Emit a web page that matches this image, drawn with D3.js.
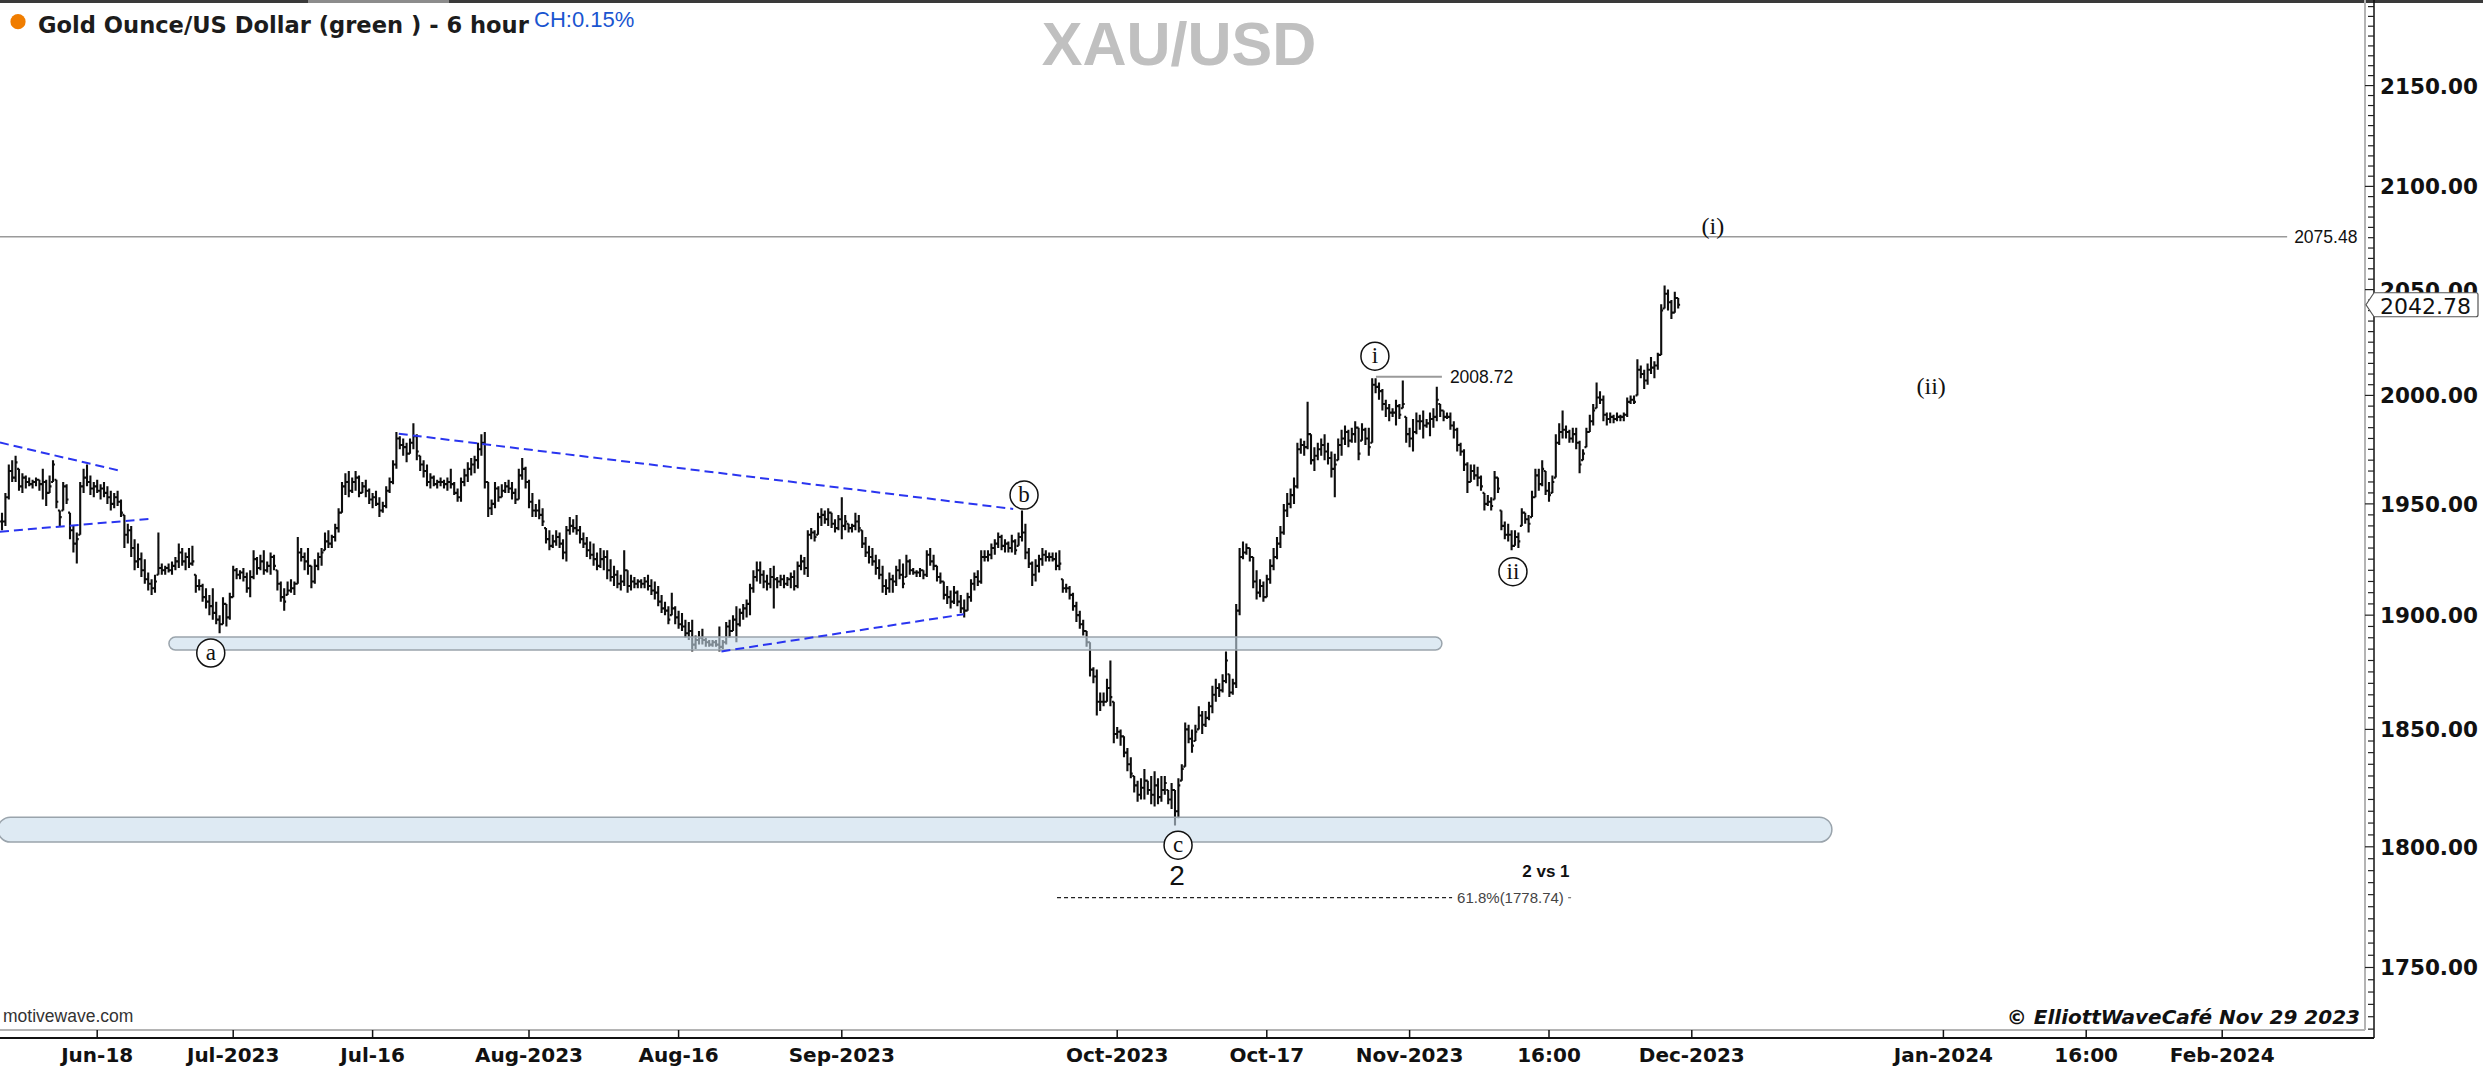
<!DOCTYPE html>
<html><head><meta charset="utf-8">
<script src="https://cdn.jsdelivr.net/npm/d3@7"></script>
<style>
html,body{margin:0;padding:0;background:#fff;overflow:hidden}
svg{display:block}
</style></head><body>
<svg id="chart" width="2483" height="1068"></svg>
<script>
// ---- DATA (6-hour bars, XAU/USD) ----
const highs = [
1946,1955,1968,1970,1972,1966,1964,1963,1962,1961,
1962,1961,1966,1961,1963,1970,1961,1947,1960,1959,
1946,1940,1937,1960,1966,1968,1963,1960,1961,1959,
1960,1958,1956,1955,1956,1952,1945,1941,1940,1934,
1932,1928,1925,1919,1916,1918,1937,1923,1922,1923,
1924,1926,1932,1930,1928,1930,1931,1918,1916,1914,
1912,1909,1912,1906,1900,1908,1905,1910,1922,1921,
1920,1921,1919,1920,1929,1926,1927,1929,1924,1928,
1927,1920,1915,1912,1915,1916,1915,1935,1930,1928,
1930,1922,1925,1928,1930,1937,1938,1936,1941,1948,
1960,1964,1965,1962,1965,1963,1960,1961,1957,1955,
1956,1953,1951,1958,1962,1970,1983,1981,1980,1978,
1980,1987,1982,1972,1970,1968,1964,1963,1961,1962,
1961,1962,1966,1960,1957,1962,1966,1969,1971,1972,
1978,1982,1983,1960,1952,1960,1958,1959,1960,1961,
1960,1957,1966,1971,1967,1961,1955,1950,1952,1948,
1939,1938,1936,1938,1937,1934,1940,1944,1943,1945,
1940,1937,1935,1933,1932,1928,1930,1929,1929,1925,
1922,1920,1918,1929,1920,1918,1917,1916,1916,1917,
1918,1916,1915,1913,1909,1906,1904,1910,1904,1902,
1901,1898,1897,1898,1891,1893,1894,1890,1889,1889,
1889,1895,1889,1897,1898,1900,1904,1903,1905,1907,
1914,1920,1924,1924,1920,1918,1921,1922,1917,1918,
1918,1917,1919,1920,1924,1927,1926,1938,1939,1938,
1946,1948,1947,1948,1946,1943,1945,1953,1945,1941,
1941,1946,1945,1938,1935,1931,1930,1927,1925,1922,
1916,1919,1918,1922,1925,1923,1927,1925,1921,1920,
1921,1920,1929,1930,1927,1922,1919,1915,1913,1911,
1913,1911,1909,1907,1910,1916,1919,1920,1929,1929,
1929,1932,1934,1937,1936,1934,1933,1936,1934,1937,
1947,1941,1930,1924,1925,1927,1930,1929,1928,1928,
1928,1929,1916,1914,1913,1910,1906,1902,1898,1893,
1888,1877,1876,1866,1866,1872,1880,1862,1851,1850,
1847,1842,1838,1830,1828,1829,1833,1828,1830,1832,
1829,1830,1830,1824,1827,1824,1829,1835,1853,1852,
1850,1852,1860,1858,1858,1862,1869,1872,1870,1874,
1884,1874,1872,1905,1930,1933,1932,1930,1926,1920,
1916,1915,1918,1925,1930,1935,1940,1950,1955,1957,
1962,1978,1980,1979,1997,1982,1976,1978,1980,1982,
1978,1974,1973,1980,1984,1986,1984,1985,1988,1985,
1987,1985,1985,2008,2008,2006,2003,1998,1996,1994,
1998,1996,2007,1990,1985,1989,1992,1991,1993,1989,
1992,1994,2004,1996,1993,1992,1992,1988,1985,1978,
1975,1969,1968,1968,1967,1963,1955,1954,1953,1965,
1962,1947,1942,1941,1938,1938,1937,1948,1946,1945,
1956,1966,1966,1970,1965,1960,1963,1982,1987,1993,
1986,1984,1985,1985,1979,1975,1985,1991,1996,2006,
2002,2000,1992,1992,1991,1992,1991,1992,1999,2000,
2000,2017,2014,2012,2015,2018,2016,2020,2043,2052,
2050,2045,2049,2046];
const lows = [
1938,1940,1952,1960,1960,1956,1955,1957,1958,1957,
1958,1956,1952,1949,1955,1960,1948,1940,1947,1950,
1934,1928,1923,1936,1955,1958,1954,1953,1955,1952,
1953,1950,1947,1948,1949,1944,1930,1932,1926,1920,
1921,1917,1914,1911,1909,1910,1918,1918,1918,1919,
1918,1920,1921,1922,1920,1921,1922,1910,1911,1906,
1903,1900,1898,1896,1892,1896,1895,1898,1908,1916,
1916,1915,1910,1908,1916,1918,1920,1918,1919,1918,
1920,1911,1906,1902,1909,1910,1909,1914,1924,1920,
1918,1912,1914,1920,1922,1929,1930,1930,1933,1937,
1946,1954,1953,1955,1956,1953,1955,1953,1950,1948,
1949,1944,1946,1948,1955,1959,1966,1975,1972,1969,
1973,1975,1970,1965,1962,1958,1957,1958,1957,1958,
1957,1956,1957,1954,1951,1951,1958,1960,1963,1964,
1966,1972,1957,1944,1945,1948,1951,1953,1955,1955,
1952,1950,1952,1961,1957,1948,1944,1944,1943,1940,
1932,1929,1930,1931,1930,1925,1924,1936,1937,1936,
1932,1930,1926,1925,1922,1920,1921,1920,1916,1915,
1913,1912,1911,1913,1910,1911,1912,1912,1912,1912,
1911,1909,1907,1904,1901,1900,1896,1900,1896,1894,
1893,1890,1889,1884,1885,1887,1887,1886,1886,1886,
1886,1884,1885,1887,1890,1893,1888,1895,1898,1899,
1900,1910,1915,1914,1912,1911,1912,1903,1912,1913,
1912,1913,1912,1911,1912,1920,1918,1917,1934,1933,
1936,1940,1941,1940,1939,1937,1938,1934,1938,1937,
1937,1938,1937,1930,1926,1923,1922,1918,1916,1910,
1909,1910,1910,1913,1916,1912,1917,1918,1918,1917,
1917,1916,1917,1922,1920,1915,1914,1907,1905,1903,
1905,1904,1901,1899,1902,1906,1911,1913,1914,1924,
1924,1925,1927,1930,1929,1928,1928,1928,1927,1931,
1933,1925,1921,1913,1915,1919,1922,1924,1924,1924,
1920,1920,1910,1910,1907,1902,1897,1894,1891,1886,
1873,1870,1856,1858,1860,1862,1860,1844,1846,1843,
1838,1832,1829,1823,1819,1820,1820,1822,1818,1817,
1818,1819,1822,1818,1816,1809,1812,1828,1834,1844,
1840,1845,1850,1848,1851,1854,1857,1862,1864,1866,
1870,1864,1865,1868,1900,1925,1927,1924,1912,1907,
1908,1906,1908,1914,1920,1925,1930,1936,1944,1948,
1950,1957,1973,1972,1975,1968,1965,1970,1972,1970,
1968,1962,1953,1970,1972,1977,1976,1978,1978,1970,
1979,1977,1972,1978,2001,1998,1993,1990,1988,1990,
1986,1989,1994,1978,1976,1974,1982,1984,1980,1985,
1981,1985,1988,1990,1988,1989,1984,1980,1974,1972,
1965,1955,1960,1961,1958,1956,1947,1949,1947,1952,
1955,1938,1934,1933,1929,1931,1930,1940,1941,1937,
1944,1953,1956,1958,1954,1951,1955,1962,1977,1980,
1980,1978,1978,1975,1964,1970,1976,1983,1986,1994,
1996,1988,1986,1987,1987,1988,1988,1988,1990,1996,
1996,2000,2008,2003,2005,2010,2008,2012,2019,2041,
2040,2036,2039,2041];
const closes = [
1942,1953,1965,1962,1969,1958,1962,1960,1959,1960,
1961,1959,1960,1955,1958,1968,1951,1944,1958,1952,
1938,1932,1934,1958,1962,1960,1957,1958,1956,1957,
1955,1953,1950,1953,1951,1946,1936,1938,1930,1924,
1925,1920,1916,1914,1912,1915,1921,1920,1921,1920,
1922,1924,1928,1924,1926,1923,1924,1913,1913,1908,
1906,1904,1901,1898,1896,1905,1899,1908,1920,1918,
1919,1917,1912,1917,1925,1921,1924,1920,1922,1926,
1922,1914,1908,1906,1911,1912,1914,1928,1926,1924,
1922,1915,1922,1926,1928,1933,1932,1935,1939,1946,
1958,1960,1956,1960,1962,1955,1958,1956,1952,1953,
1950,1947,1949,1956,1960,1968,1980,1977,1976,1973,
1978,1981,1974,1968,1965,1960,1962,1959,1960,1960,
1959,1960,1959,1955,1953,1960,1963,1966,1968,1970,
1975,1978,1960,1948,1950,1957,1953,1956,1958,1957,
1955,1952,1963,1966,1960,1951,1947,1947,1945,1942,
1934,1931,1933,1935,1932,1928,1938,1940,1939,1938,
1934,1932,1929,1927,1925,1922,1925,1926,1920,1917,
1918,1914,1915,1920,1913,1915,1914,1915,1914,1915,
1913,1911,1910,1906,1903,1902,1898,1903,1899,1896,
1895,1892,1893,1887,1889,1890,1889,1888,1887,1888,
1887,1886,1888,1895,1893,1898,1896,1901,1903,1905,
1912,1917,1920,1918,1915,1914,1917,1916,1915,1916,
1914,1916,1917,1913,1922,1924,1921,1936,1937,1935,
1944,1945,1943,1946,1941,1939,1943,1940,1942,1939,
1940,1942,1939,1932,1928,1926,1924,1921,1918,1913,
1912,1916,1915,1920,1918,1914,1924,1920,1919,1919,
1920,1918,1927,1924,1922,1917,1915,1909,1908,1906,
1910,1906,1903,1902,1908,1914,1917,1915,1926,1926,
1927,1930,1932,1935,1931,1932,1930,1933,1929,1935,
1937,1928,1923,1918,1922,1925,1927,1926,1926,1925,
1922,1923,1912,1912,1909,1904,1900,1896,1893,1888,
1876,1873,1862,1862,1862,1868,1864,1848,1849,1847,
1840,1835,1831,1826,1822,1825,1828,1824,1822,1826,
1821,1824,1827,1820,1824,1815,1826,1833,1850,1846,
1843,1849,1856,1852,1855,1860,1865,1868,1867,1871,
1880,1866,1870,1902,1926,1928,1930,1926,1915,1910,
1913,1908,1916,1922,1926,1932,1937,1947,1950,1954,
1958,1975,1977,1976,1982,1970,1972,1975,1977,1974,
1971,1966,1968,1977,1980,1983,1979,1982,1985,1973,
1984,1980,1976,2005,2004,2002,1996,1994,1992,1992,
1995,1991,1996,1982,1980,1983,1988,1988,1986,1987,
1989,1990,1998,1993,1990,1990,1986,1984,1977,1974,
1968,1960,1965,1963,1962,1958,1950,1951,1949,1962,
1957,1940,1936,1936,1931,1935,1933,1946,1943,1941,
1953,1963,1959,1966,1956,1954,1960,1978,1983,1984,
1983,1980,1982,1978,1968,1973,1983,1988,1993,1999,
1998,1991,1989,1990,1989,1990,1990,1991,1997,1998,
1997,2012,2010,2007,2012,2013,2014,2019,2040,2048,
2044,2039,2046,2042.78];

const priceTicks = [1750,1800,1850,1900,1950,2000,2050,2100,2150];
const timeTickLabels = ["Jun-18","Jul-2023","Jul-16","Aug-2023","Aug-16","Sep-2023","Oct-2023","Oct-17","Nov-2023","16:00","Dec-2023","Jan-2024","16:00","Feb-2024"];
const timeTickBars = [28,68,109,155,199,247,328,372,414,455,497,571,613,653];

// annotations in (bar index, price)
const trendLines = [[-0.6,1978.1,34.6,1965.2],[-0.6,1937.4,44.4,1943.3],[116.7,1982.2,297.4,1947.7],[211.6,1884.0,282.9,1900.4]];
const zones = [[49.1,423.5,1890.3,1884.6],[-1.2,538.2,1812.5,1802.0]];
const waveCircles = [["a",61.4,1883.3],["b",300.6,1954.0],["c",345.9,1800.7],["i",403.8,2018.4],["ii",444.4,1919.4]];
const waveLabels = [["(i)",503.2,2080.7],["(ii)",567.4,2004.6]];
const resistanceLevel = 2075.48;
const waveIHigh = [404.1, 423.5, 2008.72];
const fibLevel = [310.3, 426.5, 1778.74, "61.8%(1778.74)"];
const lastPrice = 2042.78;

// ---- SCALES ----
const x = d3.scaleLinear().domain([0, 695]).range([2, 2365]);
const y = d3.scaleLog().domain([1778.74, 2075.48]).range([897.7, 236.7]);

const svg = d3.select("#chart");
const plotRight = 2365, axisX = 2374, axisTop = 1030, axisBottom = 1038;

svg.append("defs").append("clipPath").attr("id","plotclip")
  .append("rect").attr("x",0).attr("y",0).attr("width",plotRight).attr("height",axisTop);
const plot = svg.append("g").attr("clip-path","url(#plotclip)");

// top strip
svg.append("rect").attr("x",0).attr("y",0).attr("width",2483).attr("height",3).attr("fill","#3a3a3a");
svg.append("rect").attr("x",308).attr("y",0).attr("width",141).attr("height",3).attr("fill","#8c8c8c");

// resistance line
plot.append("line").attr("x1",0).attr("x2",x(672.1)).attr("y1",y(resistanceLevel)).attr("y2",y(resistanceLevel))
  .attr("stroke","#9a9a9a").attr("stroke-width",1.6);
svg.append("text").attr("x",x(672.1)+7).attr("y",y(resistanceLevel)+6).text(resistanceLevel.toFixed(2))
  .attr("font-family","Liberation Sans, Arial, sans-serif").attr("font-size",17.5).attr("fill","#111");

// bars
let d = "";
const hw = 1.9;
for (let i = 0; i < highs.length; i++) {
  const cx = x(i);
  let o = i === 0 ? closes[0] : closes[i-1];
  o = Math.max(lows[i], Math.min(highs[i], o));
  d += `M${cx},${y(highs[i])}V${y(lows[i])}M${cx-hw},${y(o)}H${cx}M${cx},${y(closes[i])}H${cx+hw}`;
}
plot.append("path").attr("d", d).attr("stroke","#0d0d0d").attr("stroke-width",2.1).attr("fill","none");

// zones (semi transparent, over bars)
zones.forEach(z => {
  const x0 = x(z[0]), x1 = x(z[1]), y0 = y(z[2]), y1 = y(z[3]), h = y1 - y0;
  plot.append("rect").attr("x",x0).attr("y",y0).attr("width",x1-x0).attr("height",h)
    .attr("rx",h/2).attr("ry",h/2).attr("fill","rgb(200,220,235)").attr("fill-opacity",0.6)
    .attr("stroke","#9aa4ac").attr("stroke-width",1.5);
});

// trend lines
trendLines.forEach(t => {
  plot.append("line").attr("x1",x(t[0])).attr("y1",y(t[1])).attr("x2",x(t[2])).attr("y2",y(t[3]))
    .attr("stroke","#2a35f0").attr("stroke-width",2).attr("stroke-dasharray","9,5");
});

// wave (i) high level 2008.72
plot.append("line").attr("x1",x(waveIHigh[0])).attr("x2",x(waveIHigh[1])).attr("y1",y(waveIHigh[2])).attr("y2",y(waveIHigh[2]))
  .attr("stroke","#9a9a9a").attr("stroke-width",2);
svg.append("text").attr("x",x(waveIHigh[1])+8).attr("y",y(waveIHigh[2])+6).text(waveIHigh[2].toFixed(2))
  .attr("font-family","Liberation Sans, Arial, sans-serif").attr("font-size",17.5).attr("fill","#111");

// fib line
plot.append("line").attr("x1",x(fibLevel[0])).attr("x2",x(fibLevel[1])).attr("y1",y(fibLevel[2])).attr("y2",y(fibLevel[2]))
  .attr("stroke","#222").attr("stroke-width",1.2).attr("stroke-dasharray","4,3");
svg.append("text").attr("x",x(fibLevel[1])+5).attr("y",y(fibLevel[2])+5).text(fibLevel[3])
  .attr("font-family","Liberation Sans, Arial, sans-serif").attr("font-size",15).attr("fill","#444");
svg.append("line").attr("x1",x(fibLevel[1])+116).attr("x2",x(fibLevel[1])+119).attr("y1",y(fibLevel[2])).attr("y2",y(fibLevel[2]))
  .attr("stroke","#777").attr("stroke-width",1.2);

// wave circles
waveCircles.forEach(w => {
  const g = svg.append("g").attr("transform",`translate(${x(w[1])},${y(w[2])})`);
  g.append("circle").attr("r",14).attr("fill","#fff").attr("stroke","#111").attr("stroke-width",1.5);
  g.append("text").attr("text-anchor","middle").attr("y",7).text(w[0])
    .attr("font-family","Liberation Serif, Times New Roman, serif").attr("font-size",23).attr("fill","#111");
});
waveLabels.forEach(w => {
  svg.append("text").attr("x",x(w[1])).attr("y",y(w[2])+8).attr("text-anchor","middle").text(w[0])
    .attr("font-family","Liberation Serif, Times New Roman, serif").attr("font-size",24).attr("fill","#111");
});
svg.append("text").attr("x",x(345.6)).attr("y",y(1788)+10).attr("text-anchor","middle").text("2")
  .attr("font-family","Liberation Sans, Arial, sans-serif").attr("font-size",28).attr("fill","#111");
svg.append("text").attr("x",x(454.1)).attr("y",y(1790)+6).attr("text-anchor","middle").text("2 vs 1")
  .attr("font-family","Liberation Sans, Arial, sans-serif").attr("font-size",17).attr("font-weight","bold").attr("fill","#111");

// ---- AXES ----
// right axis
svg.append("line").attr("x1",plotRight).attr("x2",plotRight).attr("y1",0).attr("y2",axisTop).attr("stroke","#b4b4b4").attr("stroke-width",2);
svg.append("line").attr("x1",axisX).attr("x2",axisX).attr("y1",0).attr("y2",axisBottom).attr("stroke","#111").attr("stroke-width",1.5);
const minor = d3.range(1725, 2195, 5);
svg.append("g").selectAll("line").data(minor).join("line")
  .attr("x1", v => v % 50 === 0 ? plotRight : axisX - 6).attr("x2", axisX)
  .attr("y1", v => y(v)).attr("y2", v => y(v))
  .attr("stroke","#222").attr("stroke-width",1.2);
svg.append("g").selectAll("text").data(priceTicks).join("text")
  .attr("x", 2380).attr("y", v => y(v) + 8).text(v => v.toFixed(2))
  .attr("font-family","DejaVu Sans, Verdana, sans-serif").attr("font-weight","bold").attr("font-size",21.5).attr("fill","#111");

// last price tag
const yl = y(lastPrice);
svg.append("path").attr("d",`M2366,${yl}L2374,${yl-12}H2476Q2478,${yl-12} 2478,${yl-10}V${yl+10}Q2478,${yl+12} 2476,${yl+12}H2374Z`)
  .attr("fill","#fff").attr("stroke","#555").attr("stroke-width",1.2);
svg.append("text").attr("x",2380).attr("y",yl+9).text(lastPrice.toFixed(2))
  .attr("font-family","DejaVu Sans, Verdana, sans-serif").attr("font-size",22).attr("fill","#111");

// time axis
svg.append("line").attr("x1",0).attr("x2",plotRight).attr("y1",axisTop).attr("y2",axisTop).attr("stroke","#b4b4b4").attr("stroke-width",2);
svg.append("line").attr("x1",0).attr("x2",axisX).attr("y1",axisBottom).attr("y2",axisBottom).attr("stroke","#111").attr("stroke-width",2);
const xt = svg.append("g");
xt.selectAll("line").data(timeTickBars).join("line")
  .attr("x1", v => x(v)).attr("x2", v => x(v)).attr("y1", axisTop).attr("y2", axisBottom)
  .attr("stroke","#111").attr("stroke-width",1.5);
xt.selectAll("text").data(timeTickBars).join("text")
  .attr("x", v => x(v)).attr("y", 1062).attr("text-anchor","middle").text((v,i) => timeTickLabels[i])
  .attr("font-family","DejaVu Sans, Verdana, sans-serif").attr("font-weight","bold").attr("font-size",20).attr("fill","#111");

// ---- TITLES ----
svg.append("circle").attr("cx",18).attr("cy",21.7).attr("r",7.6).attr("fill","#f07d00");
svg.append("text").attr("x",38).attr("y",33).text("Gold Ounce/US Dollar (green ) - 6 hour")
  .attr("font-family","DejaVu Sans, Verdana, sans-serif").attr("font-weight","bold").attr("font-size",22.6).attr("fill","#1c1c1c");
svg.append("text").attr("x",534).attr("y",27).text("CH:0.15%")
  .attr("font-family","Liberation Sans, Arial, sans-serif").attr("font-size",22).attr("fill","#1a55d0");
svg.append("text").attr("x",1179).attr("y",65).attr("text-anchor","middle").text("XAU/USD")
  .attr("font-family","Liberation Sans, Arial, sans-serif").attr("font-weight","bold").attr("font-size",61).attr("fill","#c0c0c0");
svg.append("text").attr("x",3).attr("y",1022).text("motivewave.com")
  .attr("font-family","Liberation Sans, Arial, sans-serif").attr("font-size",17.5).attr("fill","#333");
svg.append("text").attr("x",2360).attr("y",1024).attr("text-anchor","end").text("© ElliottWaveCafé Nov 29 2023")
  .attr("font-family","DejaVu Sans, Verdana, sans-serif").attr("font-style","italic").attr("font-weight","bold").attr("font-size",20).attr("fill","#111");
</script>
</body></html>
